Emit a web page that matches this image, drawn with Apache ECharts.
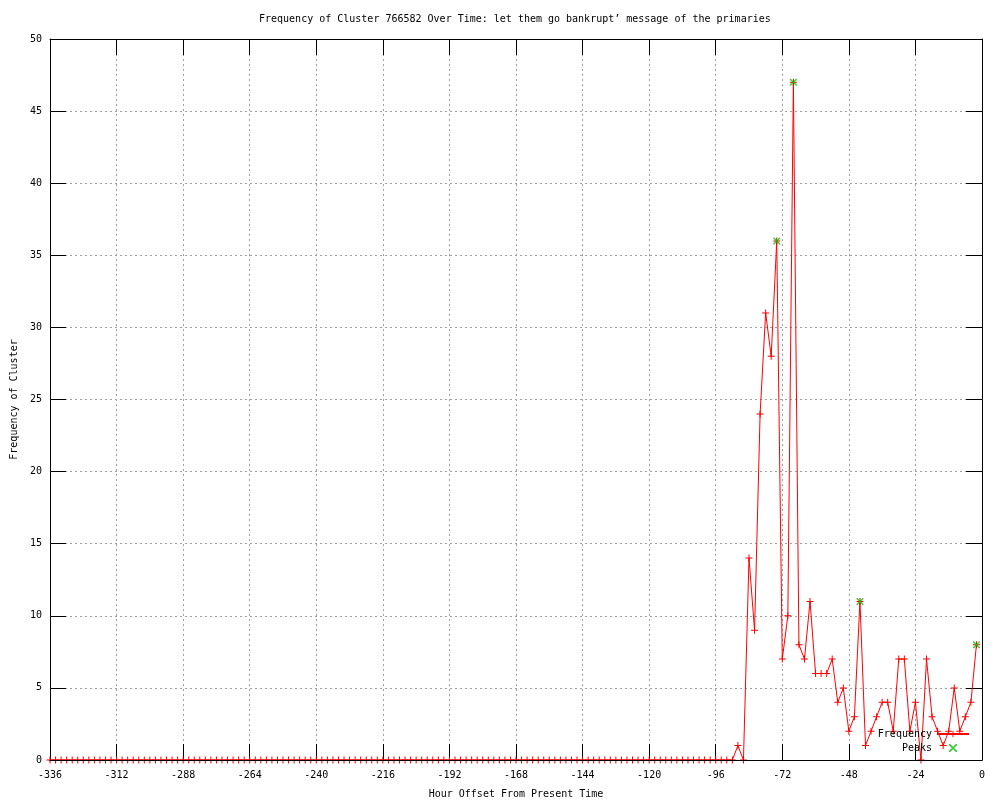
<!DOCTYPE html>
<html><head><meta charset="utf-8">
<script src="https://cdn.jsdelivr.net/npm/echarts@6/dist/echarts.min.js"></script>
<style>html,body{margin:0;padding:0;background:#fff}#c{width:1000px;height:800px}</style>
</head><body><div id="c"></div>
<script>
const titleText = "Frequency of Cluster 766582 Over Time: let them go bankrupt\u2019 message of the primaries";
const xAxisName = "Hour Offset From Present Time";
const yAxisName = "Frequency of Cluster";
const xMin = -336, xMax = 0, xStep = 24;
const yMin = 0, yMax = 50, yStep = 5;
const startHour = -336, hourStep = 2;
const freqValues = [
  0,0,0,0,0,0,0,0,0,0,0,0,0,0,0,0,0,0,0,0,
  0,0,0,0,0,0,0,0,0,0,0,0,0,0,0,0,0,0,0,0,
  0,0,0,0,0,0,0,0,0,0,0,0,0,0,0,0,0,0,0,0,
  0,0,0,0,0,0,0,0,0,0,0,0,0,0,0,0,0,0,0,0,
  0,0,0,0,0,0,0,0,0,0,0,0,0,0,0,0,0,0,0,0,
  0,0,0,0,0,0,0,0,0,0,0,0,0,0,0,0,0,0,0,0,
  0,0,0,0,
  1,0,14,9,24,31,28,36,7,10,47,8,7,11,6,6,6,7,4,5,2,3,
  11,1,2,3,4,4,2,7,7,2,4,0,7,3,2,1,2,5,2,3,4,8
];
const peakHours = [-74, -68, -44, -2];
const peakValues = [36, 47, 11, 8];

const font = "DejaVu Sans Mono";
const plusPath = 'path://M3,0h1v3h3v1h-3v3h-1v-3h-3v-1h3z';
const crossPath = 'path://M0,0L1,0L7,6L7,7L6,7L0,1Z M6,0L7,0L7,1L1,7L0,7L0,6Z';

const freqData = freqValues.map((v, i) => [startHour + i * hourStep, v]);
const peakData = peakHours.map((h, i) => [h, peakValues[i]]);

const chart = echarts.init(document.getElementById('c'), null, {renderer: 'canvas'});
const tickStyle = {show: true, inside: true, length: 16, lineStyle: {color: '#000', width: 1}};
const lineStyleAxis = {show: true, onZero: false, lineStyle: {color: '#000', width: 1}};
chart.setOption({
  animation: false,
  backgroundColor: '#fff',
  title: {text: titleText, left: 254, top: 9,
    textStyle: {fontFamily: font, fontSize: 10, fontWeight: 'normal', color: '#000'}},
  grid: {left: 50, right: 18, top: 39, bottom: 40, containLabel: false, outerBoundsMode: 'none'},
  legend: {
    data: ['Frequency', 'Peaks'], orient: 'vertical', right: 25, top: 724,
    align: 'right', itemWidth: 32, itemHeight: 8, itemGap: 4,
    textStyle: {fontFamily: font, fontSize: 10, color: '#000'}
  },
  xAxis: [
    {type: 'value', position: 'bottom', min: xMin, max: xMax, interval: xStep,
      name: xAxisName, nameLocation: 'middle', nameGap: 29,
      nameTextStyle: {fontFamily: font, fontSize: 10, color: '#000'},
      axisLine: lineStyleAxis, axisTick: tickStyle,
      axisLabel: {fontFamily: font, fontSize: 10, color: '#000', margin: 10},
      splitLine: {show: true, lineStyle: {color: '#a0a0a0', type: [2, 3], width: 1}}},
    {type: 'value', position: 'top', min: xMin, max: xMax, interval: xStep,
      axisLine: lineStyleAxis, axisTick: tickStyle, axisLabel: {show: false}, splitLine: {show: false}},
    {type: 'value', position: 'bottom', min: xMin, max: xMax, interval: xStep, z: 10,
      axisLine: lineStyleAxis, axisTick: {show: false}, axisLabel: {show: false}, splitLine: {show: false}}
  ],
  yAxis: [
    {type: 'value', position: 'left', min: yMin, max: yMax, interval: yStep,
      name: yAxisName, nameLocation: 'middle', nameGap: 31, nameRotate: 90,
      nameTextStyle: {fontFamily: font, fontSize: 10, color: '#000'},
      axisLine: lineStyleAxis, axisTick: tickStyle,
      axisLabel: {fontFamily: font, fontSize: 10, color: '#000', margin: 8},
      splitLine: {show: true, lineStyle: {color: '#a0a0a0', type: [2, 3], width: 1}}},
    {type: 'value', position: 'right', min: yMin, max: yMax, interval: yStep,
      axisLine: lineStyleAxis, axisTick: tickStyle, axisLabel: {show: false}, splitLine: {show: false}}
  ],
  series: [
    {name: 'Frequency', type: 'line', xAxisIndex: 0, yAxisIndex: 0, data: freqData,
      symbol: plusPath, symbolSize: 7, showSymbol: true, showAllSymbol: true,
      lineStyle: {color: '#ff0000', width: 1}, itemStyle: {color: '#ff0000'},
      emphasis: {disabled: true}, z: 2},
    {name: 'Peaks', type: 'scatter', xAxisIndex: 0, yAxisIndex: 0, data: peakData,
      symbol: crossPath, symbolSize: 7, itemStyle: {color: '#00c000'},
      emphasis: {disabled: true}, z: 3}
  ]
});
</script></body></html>
